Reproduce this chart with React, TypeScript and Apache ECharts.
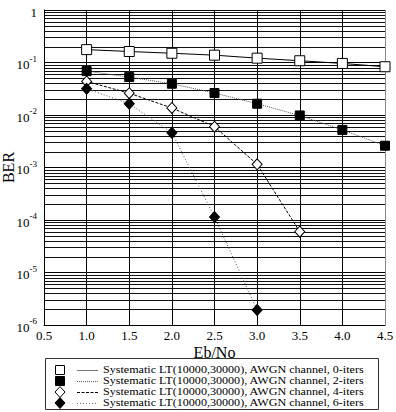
import React, { useEffect, useRef } from "react";
import * as echarts from "echarts";

// Eb/No points (dB)
const ebNo = [1.0, 1.5, 2.0, 2.5, 3.0, 3.5, 4.0, 4.5];
const ebNo4 = [1.0, 1.5, 2.0, 2.5, 3.0, 3.5];
const ebNo6 = [1.0, 1.5, 2.0, 2.5, 3.0];

// BER per number of decoding iterations
const ber0 = [0.176, 0.162, 0.15, 0.138, 0.121, 0.108, 0.096, 0.083];
const ber2 = [0.0686, 0.0527, 0.0394, 0.0262, 0.0164, 0.0098, 0.0052, 0.0026];
const ber4 = [0.0436, 0.026, 0.0136, 0.006, 0.00115, 6.0e-5];
const ber6 = [0.0316, 0.0164, 0.0046, 1.14e-4, 1.94e-6];

const seriesNames = [
  "Systematic LT(10000,30000), AWGN channel, 0-iters",
  "Systematic LT(10000,30000), AWGN channel, 2-iters",
  "Systematic LT(10000,30000), AWGN channel, 4-iters",
  "Systematic LT(10000,30000), AWGN channel, 6-iters",
];

const FONT = '"Liberation Serif", "Times New Roman", serif';
const X_MIN = 0.5;
const X_MAX = 4.5;

const zip = (xs: number[], ys: number[]) => xs.map((x, i) => [x, ys[i]]);

// horizontal grid lines at 2..9 x 10^k inside each decade
const minorGrid: number[] = [];
for (let k = -6; k < 0; k++) {
  for (let m = 2; m <= 9; m++) minorGrid.push(m * Math.pow(10, k));
}

export default function App() {
  const ref = useRef<HTMLDivElement>(null);

  useEffect(() => {
    if (!ref.current) return;
    const chart = echarts.init(ref.current, undefined, { renderer: "svg" });

    // hand-built legend: marker, line sample, label
    const rowsY = [370, 381, 392, 403];
    const legendItems: any[] = [
      {
        type: "rect",
        shape: { x: 45.5, y: 358.5, width: 333, height: 51 },
        style: { fill: "#fff", stroke: "#333", lineWidth: 1 },
      },
    ];
    const lineStyles = [
      { stroke: "#777", lineDash: null as any },
      { stroke: "#666", lineDash: [1, 1] },
      { stroke: "#000", lineDash: [3, 1.5] },
      { stroke: "#666", lineDash: [1, 2] },
    ];
    rowsY.forEach((y, i) => {
      const cx = 60;
      const filled = i === 1 || i === 3;
      const fill = filled ? "#000" : "#fff";
      if (i < 2) {
        legendItems.push({
          type: "rect",
          shape: { x: cx - 4.5, y: y - 4.5, width: 9, height: 9 },
          style: { fill, stroke: "#000", lineWidth: 1 },
        });
      } else {
        legendItems.push({
          type: "polygon",
          shape: {
            points: [
              [cx, y - 5.5],
              [cx + 5, y],
              [cx, y + 5.5],
              [cx - 5, y],
            ],
          },
          style: { fill, stroke: "#000", lineWidth: 1 },
        });
      }
      legendItems.push({
        type: "line",
        shape: { x1: 77, y1: y + 0.5, x2: 98, y2: y + 0.5 },
        style: {
          stroke: lineStyles[i].stroke,
          lineWidth: 1,
          lineDash: lineStyles[i].lineDash,
        },
      });
      legendItems.push({
        type: "text",
        x: 103,
        y,
        scaleX: 1.1,
        style: {
          text: seriesNames[i],
          font: `11px ${FONT}`,
          lineHeight: 10,
          fill: "#000",
          verticalAlign: "middle",
        },
      });
    });

    const base = {
      type: "line" as const,
      z: 5,
      showSymbol: true,
    };

    chart.setOption({
      animation: false,
      backgroundColor: "#fff",
      grid: {
        left: 44,
        right: 11,
        top: 10,
        bottom: 87,
        containLabel: false,
        outerBoundsMode: "none",
      },
      xAxis: {
        type: "value",
        min: X_MIN,
        max: X_MAX,
        interval: 0.5,
        name: "Eb/No",
        nameLocation: "middle",
        nameGap: 19,
        nameMoveOverlap: false,
        nameTextStyle: { fontFamily: FONT, fontSize: 16, lineHeight: 16, color: "#000" },
        axisLine: { show: true, onZero: false, lineStyle: { color: "#000", width: 1 } },
        axisTick: { show: false },
        axisLabel: {
          fontFamily: FONT,
          fontSize: 13,
          lineHeight: 12,
          color: "#000",
          margin: 4,
          formatter: (v: number) => v.toFixed(1),
        },
        splitLine: {
          show: true,
          lineStyle: {
            color: ["#000", "#000", "#000", "#000", "#000", "#000", "#000", "#000", "#888"],
            width: 1,
          },
        },
      },
      yAxis: {
        type: "log",
        logBase: 10,
        min: 1e-6,
        max: 1,
        name: "BER",
        nameLocation: "middle",
        nameRotate: 90,
        nameGap: 28,
        nameMoveOverlap: false,
        nameTextStyle: { fontFamily: FONT, fontSize: 16, color: "#000" },
        axisLine: { show: true, lineStyle: { color: "#000", width: 1 } },
        axisTick: { show: false },
        axisLabel: {
          margin: 7,
          color: "#000",
          formatter: (v: number) => {
            const e = Math.round(Math.log10(v));
            if (e === 0) return "{a|1}";
            return `{a|10}{b|${e}}`;
          },
          rich: {
            a: {
              fontFamily: FONT,
              fontSize: 13,
              lineHeight: 17,
              verticalAlign: "bottom",
              color: "#000",
            },
            b: {
              fontFamily: FONT,
              fontSize: 9,
              lineHeight: 9,
              verticalAlign: "top",
              color: "#000",
            },
          },
        },
        splitLine: { show: true, lineStyle: { color: "#000", width: 1 } },
      },
      graphic: legendItems,
      series: [
        {
          // minor log grid lines, placed through the axes' own scales
          type: "custom",
          name: "minor-grid",
          silent: true,
          z: 1,
          data: minorGrid.map((v) => [X_MIN, v]),
          encode: { x: 0, y: 1 },
          renderItem: (params: any, api: any) => {
            const v = api.value(1);
            const p1 = api.coord([X_MIN, v]);
            const p2 = api.coord([X_MAX, v]);
            const y = Math.round(p1[1]) + 0.5;
            return {
              type: "line",
              shape: { x1: p1[0], y1: y, x2: p2[0], y2: y },
              style: { stroke: "#111", lineWidth: 1 },
            };
          },
        },
        {
          ...base,
          name: seriesNames[0],
          data: zip(ebNo, ber0),
          symbol: "rect",
          symbolSize: 10,
          lineStyle: { color: "#000", width: 1, type: "solid" },
          itemStyle: { color: "#fff", borderColor: "#000", borderWidth: 1 },
        },
        {
          ...base,
          name: seriesNames[1],
          data: zip(ebNo, ber2),
          symbol: "rect",
          symbolSize: 9,
          lineStyle: { color: "#555", width: 1, type: [1, 1] },
          itemStyle: { color: "#000", borderColor: "#000", borderWidth: 1 },
        },
        {
          ...base,
          name: seriesNames[2],
          data: zip(ebNo4, ber4),
          symbol: "diamond",
          symbolSize: [10, 11],
          lineStyle: { color: "#000", width: 1, type: [3, 1.5] },
          itemStyle: { color: "#fff", borderColor: "#000", borderWidth: 1 },
        },
        {
          ...base,
          name: seriesNames[3],
          data: zip(ebNo6, ber6),
          symbol: "diamond",
          symbolSize: [10, 11],
          lineStyle: { color: "#555", width: 1, type: [1, 2] },
          itemStyle: { color: "#000", borderColor: "#000", borderWidth: 1 },
        },
      ],
    });

    return () => chart.dispose();
  }, []);

  return (
    <div
      ref={ref}
      style={{ position: "absolute", left: 0, top: 0, width: 396, height: 412 }}
    />
  );
}
